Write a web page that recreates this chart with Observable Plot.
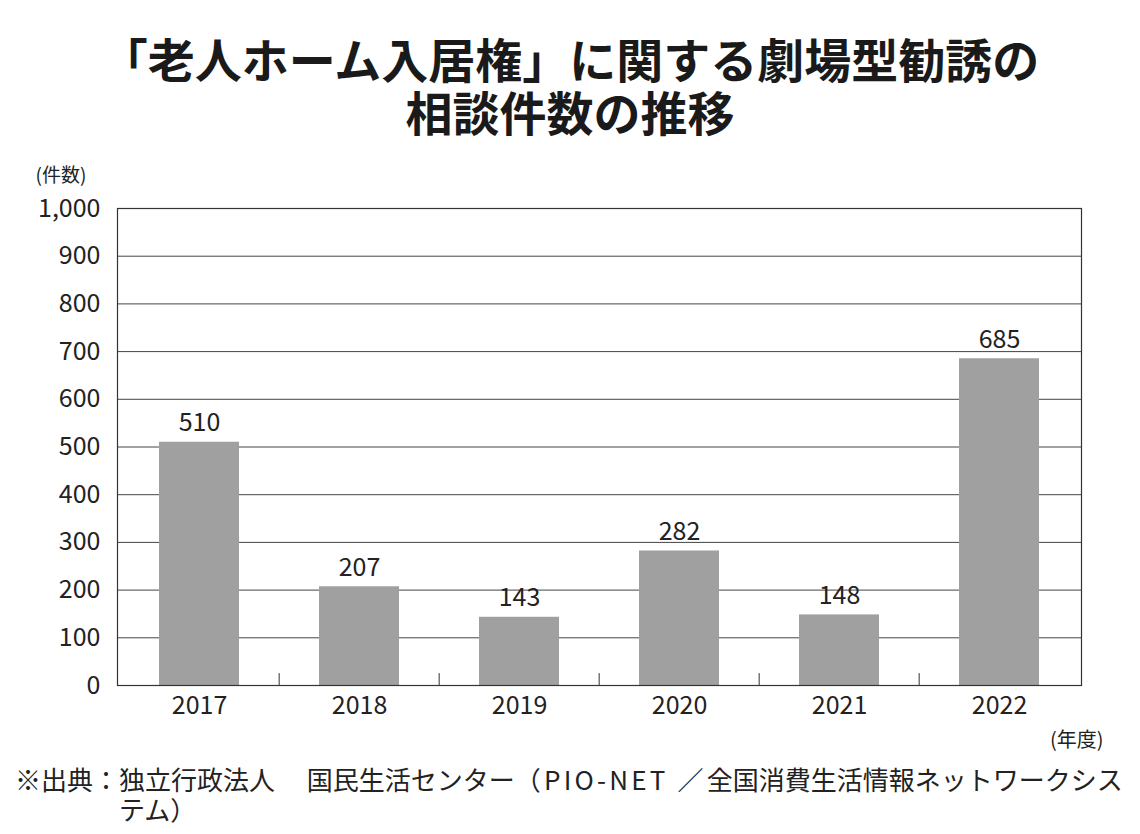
<!DOCTYPE html>
<html><head><meta charset="utf-8">
<script src="https://cdn.jsdelivr.net/npm/d3@7"></script>
<script src="https://cdn.jsdelivr.net/npm/@observablehq/plot@0.6"></script>
<style>
body{margin:0;background:#fff;width:1140px;height:834px;position:relative;overflow:hidden;font-family:"Noto Sans CJK JP","Noto Sans",sans-serif;color:#222;}
.title{position:absolute;left:0;width:1140px;text-align:center;font-size:47px;line-height:48px;font-weight:700;color:#1a1a1a;white-space:nowrap;}
#chart{position:absolute;top:160px;left:0;}
.foot{position:absolute;font-size:26px;line-height:27px;white-space:nowrap;color:#222;}
.lat{letter-spacing:3.2px;}
</style></head>
<body>
<div class="title" style="top:34px;">「老人ホーム入居権」に関する劇場型勧誘の</div>
<div class="title" style="top:87px;">相談件数の推移</div>
<div id="chart"></div>
<div class="foot" style="top:765px;left:15px;">※出典：独立行政法人　 国民生活センター<span class="lat">（PIO-NET ／</span>全国消費生活情報ネットワークシス</div>
<div class="foot" style="top:795px;left:119px;">テム）</div>
<script>
const years = ["2017","2018","2019","2020","2021","2022"];
const counts = [510, 207, 143, 282, 148, 685];
const yTicks = [0,100,200,300,400,500,600,700,800,900,1000];
const yUnit = "(件数)";
const xUnit = "(年度)";

const data = years.map((y,i)=>({year:y, count:counts[i]}));
const W = 1140, H = 600, mL = 117, mR = 59, mT = 48, mB = 75;
const step = (W - mL - mR) / years.length;

const chart = Plot.plot({
  width: W, height: H,
  marginLeft: mL, marginRight: mR, marginTop: mT, marginBottom: mB,
  style: {fontFamily: '"Noto Sans CJK JP","Noto Sans",sans-serif', fontSize: "25px", color: "#222", background: "#fff"},
  x: {domain: years, paddingInner: 0.5, paddingOuter: 0.25, label: null},
  y: {domain: [0, 1000], label: null},
  marks: [
    Plot.gridY(yTicks, {stroke: "#444", strokeOpacity: 1, strokeWidth: 1}),
    Plot.barY(data, {x: "year", y: "count", fill: "#a0a0a0"}),
    Plot.ruleX(years.slice(1), {x: d => d, dx: -step/2, y1: 0, y2: 25, stroke: "#333", strokeWidth: 1}),
    Plot.frame({stroke: "#333", strokeWidth: 1.2}),
    Plot.axisY(yTicks, {tickSize: 0, tickPadding: 17, tickFormat: d => d3.format(",")(d), fontSize: 25, fill: "#222"}),
    Plot.axisX({tickSize: 0, tickPadding: 11, fontSize: 25, fill: "#222"}),
    Plot.text(data, {x: "year", y: "count", text: d => String(d.count), dy: -19, fontSize: 25, fill: "#222"}),
    Plot.text([yUnit], {frameAnchor: "top-left", lineAnchor: "middle", dx: -82, dy: -33, textAnchor: "start", fontSize: 19, fill: "#222"}),
    Plot.text([xUnit], {frameAnchor: "bottom-right", lineAnchor: "middle", dx: 22, dy: 55, textAnchor: "end", fontSize: 20, fill: "#222"})
  ]
});
document.getElementById("chart").appendChild(chart);
</script>
</body></html>
